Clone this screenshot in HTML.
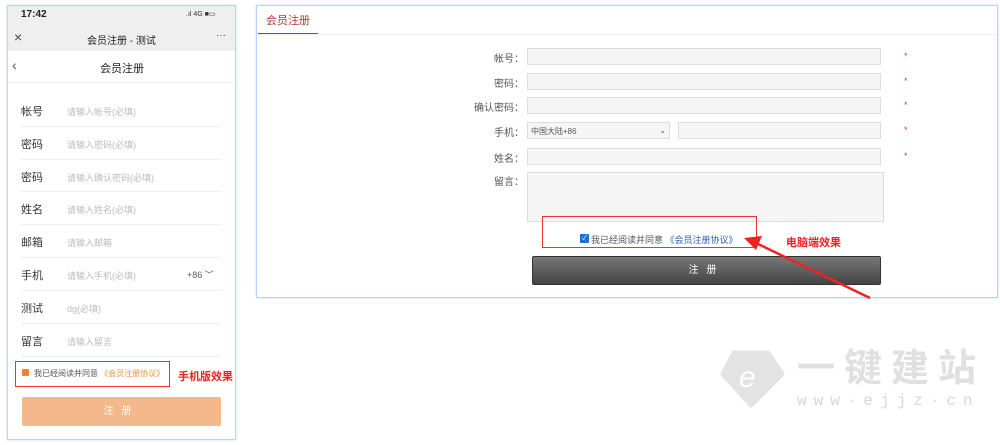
<!DOCTYPE html>
<html><head><meta charset="utf-8"><style>
*{margin:0;padding:0;box-sizing:border-box}
body{width:1000px;height:445px;background:#fff;position:relative;overflow:hidden;font-family:"Liberation Sans","Noto Sans CJK SC",sans-serif;}
.a{position:absolute;white-space:nowrap}
.ph{left:7px;top:5px;width:229px;height:435px;border:1px solid #b8d4f5;box-shadow:0 0 3px #cfe0f8;background:#fff}
.lbl{font-size:11px;color:#333}
.plh{font-size:9px;color:#bbb}
.sep{height:1px;background:#eee;left:21px;width:200px}
.dl{font-size:10px;color:#555;text-align:right;width:60px}
.in{background:#f5f5f5;border:1px solid #ddd;height:17px}
.st{color:#e33;font-size:9px}
</style></head><body>
<div class="a ph"></div>
<div class="a" style="left:8px;top:6px;width:227px;height:45px;background:#efefef"></div>
<div class="a" style="left:21px;top:9px;font-size:10px;font-weight:bold;color:#222">17:42</div>
<div class="a" style="left:186px;top:10px;font-size:7px;color:#333">.ıl 4G ■▭</div>
<div class="a" style="left:14px;top:29px;font-size:14px;color:#444">×</div>
<div class="a" style="left:87px;top:32px;font-size:10px;color:#222">会员注册 - 测试</div>
<div class="a" style="left:216px;top:30px;font-size:10px;color:#444">···</div>
<div class="a" style="left:12px;top:57px;font-size:14px;color:#555">‹</div>
<div class="a" style="left:100px;top:60px;font-size:11px;color:#222">会员注册</div>
<div class="a" style="left:8px;top:82px;width:227px;height:1px;background:#f2f2f2"></div>
<div class="a lbl" style="left:21px;top:103px">帐号</div><div class="a plh" style="left:67px;top:105px">请输入帐号(必填)</div><div class="a sep" style="top:126px"></div>
<div class="a lbl" style="left:21px;top:136px">密码</div><div class="a plh" style="left:67px;top:138px">请输入密码(必填)</div><div class="a sep" style="top:159px"></div>
<div class="a lbl" style="left:21px;top:169px">密码</div><div class="a plh" style="left:67px;top:171px">请输入确认密码(必填)</div><div class="a sep" style="top:191px"></div>
<div class="a lbl" style="left:21px;top:201px">姓名</div><div class="a plh" style="left:67px;top:203px">请输入姓名(必填)</div><div class="a sep" style="top:224px"></div>
<div class="a lbl" style="left:21px;top:234px">邮箱</div><div class="a plh" style="left:67px;top:236px">请输入邮箱</div><div class="a sep" style="top:257px"></div>
<div class="a lbl" style="left:21px;top:267px">手机</div><div class="a plh" style="left:67px;top:269px">请输入手机(必填)</div><div class="a" style="left:187px;top:268px;font-size:9px;color:#555">+86 ﹀</div><div class="a sep" style="top:290px"></div>
<div class="a lbl" style="left:21px;top:300px">测试</div><div class="a plh" style="left:67px;top:302px">dg(必填)</div><div class="a sep" style="top:323px"></div>
<div class="a lbl" style="left:21px;top:333px">留言</div><div class="a plh" style="left:67px;top:335px">请输入留言</div><div class="a sep" style="top:356px"></div>
<div class="a" style="left:15px;top:361px;width:155px;height:26px;border:1.5px solid #e33"></div>
<div class="a" style="left:22px;top:369px;width:7px;height:7px;background:#f0803c;border-radius:1px"></div>
<div class="a" style="left:34px;top:368px;font-size:8px;color:#555">我已经阅读并同意 <span style="color:#f0903c">《会员注册协议》</span></div>
<div class="a" style="left:178px;top:368px;font-size:11px;font-weight:bold;color:#e22">手机版效果</div>
<div class="a" style="left:22px;top:397px;width:199px;height:29px;background:#f3b98d;border-radius:2px;color:#fff;font-size:10px;text-align:center;line-height:29px;letter-spacing:8px">注册</div>

<div class="a" style="left:256px;top:5px;width:742px;height:293px;border:1px solid #b8d4f5;box-shadow:0 0 3px #cfe0f8"></div>
<div class="a" style="left:266px;top:12px;font-size:11px;color:#b03a2e">会员注册</div>
<div class="a" style="left:258px;top:33px;width:60px;height:1.5px;background:#b03a2e"></div>
<div class="a" style="left:257px;top:34px;width:740px;height:1px;background:#f0f0f0"></div>
<div class="a dl" style="left:464px;top:50px">帐号：</div><div class="a in" style="left:527px;top:48px;width:354px"></div><div class="a st" style="left:904px;top:51px">*</div>
<div class="a dl" style="left:464px;top:75px">密码：</div><div class="a in" style="left:527px;top:73px;width:354px"></div><div class="a st" style="left:904px;top:76px">*</div>
<div class="a dl" style="left:464px;top:99px">确认密码：</div><div class="a in" style="left:527px;top:97px;width:354px"></div><div class="a st" style="left:904px;top:100px">*</div>
<div class="a dl" style="left:464px;top:124px">手机：</div><div class="a in" style="left:527px;top:122px;width:143px;font-size:8px;color:#555;padding:3px 3px">中国大陆+86<span style="float:right">⌄</span></div><div class="a in" style="left:678px;top:122px;width:203px"></div><div class="a st" style="left:904px;top:125px">*</div>
<div class="a dl" style="left:464px;top:150px">姓名：</div><div class="a in" style="left:527px;top:148px;width:354px"></div><div class="a st" style="left:904px;top:151px">*</div>
<div class="a dl" style="left:464px;top:173px">留言：</div><div class="a in" style="left:527px;top:172px;width:357px;height:50px"></div>
<div class="a" style="left:542px;top:216px;width:215px;height:32px;border:1.5px solid #e33"></div>
<div class="a" style="left:580px;top:234px;width:9px;height:9px;background:#1a6fd8;border-radius:1px;color:#fff;font-size:7px;line-height:9px;text-align:center">✓</div>
<div class="a" style="left:591px;top:233px;font-size:9px;color:#555">我已经阅读并同意 <span style="color:#2a5db0">《会员注册协议》</span></div>
<div class="a" style="left:786px;top:234px;font-size:11px;font-weight:bold;color:#e22">电脑端效果</div>
<div class="a" style="left:532px;top:256px;width:349px;height:29px;background:linear-gradient(#777,#444);border:1px solid #333;border-radius:2px;color:#fff;font-size:10px;text-align:center;line-height:27px;letter-spacing:8px">注册</div>
<svg class="a" style="left:0;top:0" width="1000" height="445"><line x1="870" y1="298" x2="756" y2="243" stroke="#e22" stroke-width="2.5"/><polygon points="744,238 762,236 756,250" fill="#e22"/></svg>

<svg class="a" style="left:720px;top:350px" width="66" height="58"><polygon points="14,3 48,3 62,24 31,55 3,24" fill="#e3e3e3" stroke="#e3e3e3" stroke-width="5" stroke-linejoin="round"/><text x="19" y="37" font-size="30" font-style="italic" fill="#fff" font-family="Liberation Sans">e</text></svg>
<div class="a" style="left:797px;top:349px;font-size:38px;line-height:40px;color:#e0e0e0;letter-spacing:9px;font-weight:bold">一键建站</div>
<div class="a" style="left:797px;top:392px;font-size:16px;line-height:18px;color:#d8d8d8;letter-spacing:7px;font-family:'Liberation Mono',monospace">www·ejjz·cn</div>
</body></html>
